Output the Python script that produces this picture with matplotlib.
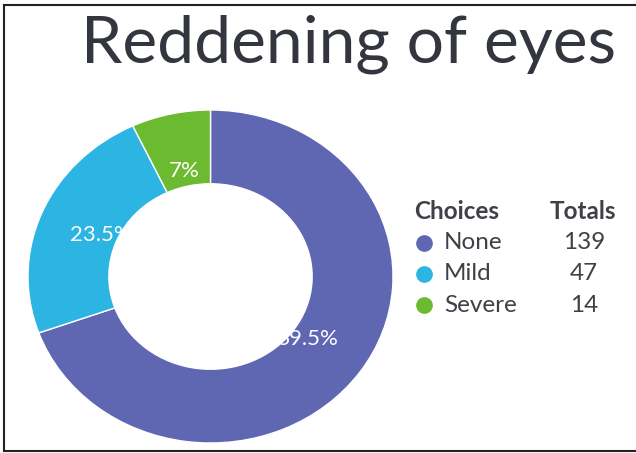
import matplotlib.pyplot as plt
from matplotlib.lines import Line2D

plt.rcParams['font.family'] = ['Lato', 'DejaVu Sans']

title = "Reddening of eyes"
choices = ["None", "Mild", "Severe"]
totals = [139, 47, 14]
colors = ["#5f67b3", "#2cb4e2", "#6cba2f"]

fig = plt.figure(figsize=(6.36, 4.53), dpi=100)
W, H = 636, 453

# donut, stretched a little wider than tall
ax = fig.add_axes([28 / W, (H - 443) / H, 365 / W, 333 / H])
wedges, texts, pcts = ax.pie(
    totals, colors=colors, startangle=90, counterclock=False,
    autopct=lambda p: f"{p:.1f}%".replace(".0%", "%"),
    pctdistance=0.65,
    wedgeprops=dict(width=0.443, edgecolor="white", linewidth=1),
    textprops=dict(color="white", fontsize=16),
)
ax.set_aspect("auto")
ax.set_xlim(-1, 1)
ax.set_ylim(-1, 1)

fig.text(81 / W, 1 - 63 / H, title, fontsize=47.5, color="#33363f",
         ha="left", va="baseline")

# legend table
txt = "#3f4148"
fs = 17.5
fig.text(414 / W, 1 - 212 / H, "Choices", fontsize=fs, fontweight="bold",
         color=txt, ha="left", va="center")
fig.text(583 / W, 1 - 212 / H, "Totals", fontsize=fs, fontweight="bold",
         color=txt, ha="center", va="center")
for i, (name, n, c) in enumerate(zip(choices, totals, colors)):
    y = 1 - (243 + 31 * i) / H
    fig.add_artist(Line2D([424 / W], [y], transform=fig.transFigure,
                          marker="o", markersize=11, color=c, lw=0))
    fig.text(444 / W, y, name, fontsize=fs, color=txt, ha="left", va="center")
    fig.text(584 / W, y, str(n), fontsize=fs, color=txt, ha="center", va="center")

# frame lines on left, top and bottom
for xs, ys in [([4, 4], [5, 451]), ([4, W], [5, 5]), ([4, W], [451, 451])]:
    fig.add_artist(Line2D([x / W for x in xs], [1 - y / H for y in ys],
                          transform=fig.transFigure, color="#222222", lw=1.5))

fig.savefig("out.png", dpi=100)
